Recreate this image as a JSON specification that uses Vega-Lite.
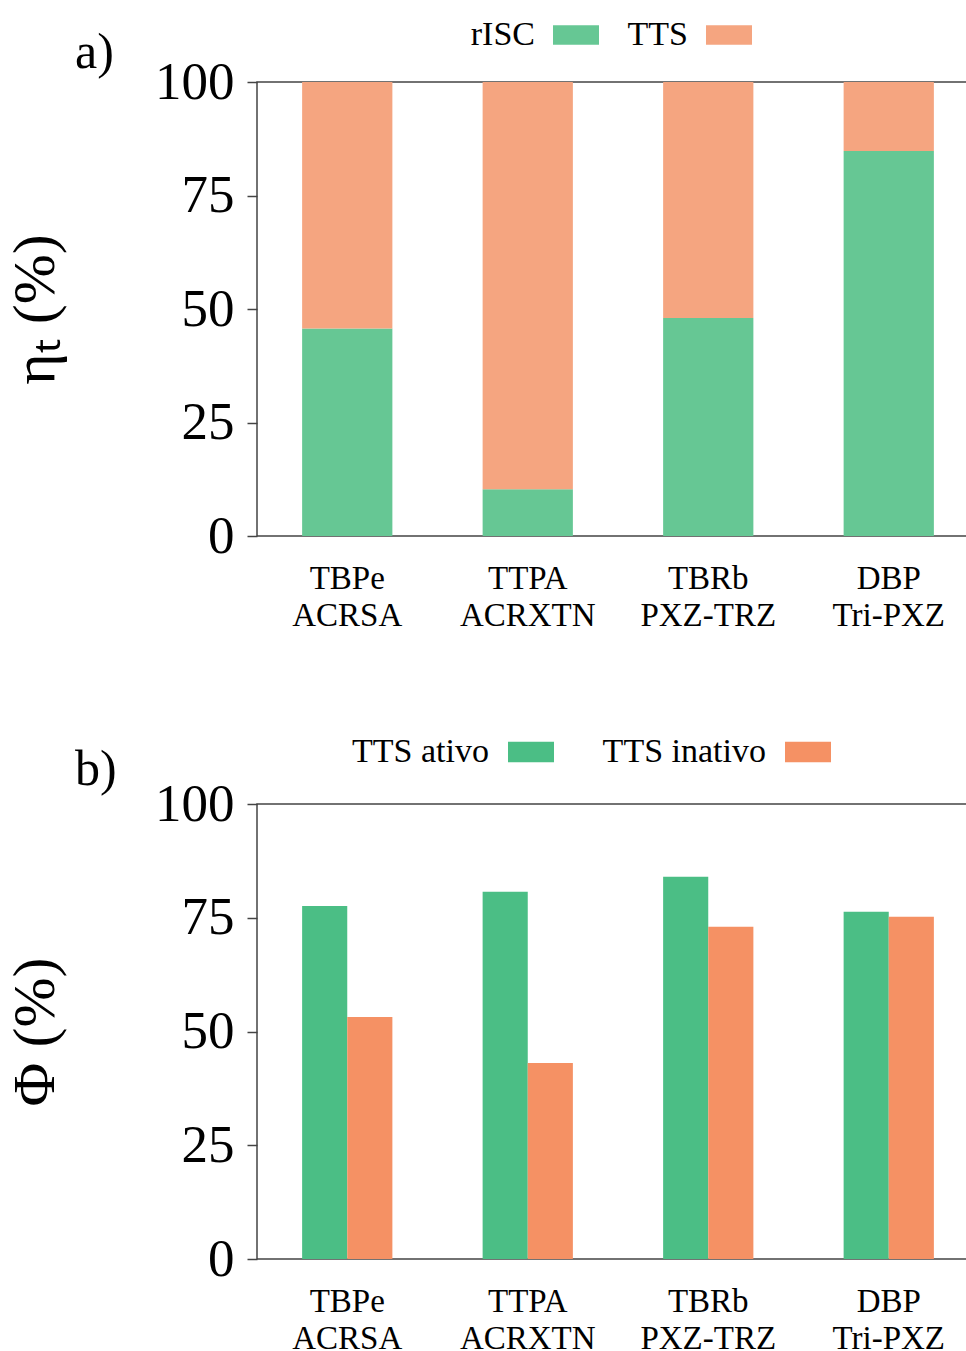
{
  "$schema": "https://vega.github.io/schema/vega-lite/v6.json",
  "background": "white",
  "padding": {"left": 4, "top": 11, "right": 0, "bottom": 0},
  "config": {
    "font": "Liberation Serif",
    "view": {"stroke": "#444444", "strokeWidth": 1.5},
    "axis": {"grid": false, "domain": false, "tickColor": "#444444", "tickWidth": 1.5, "labelColor": "black", "titleColor": "black", "labelFont": "Liberation Serif", "titleFont": "Liberation Serif", "titleFontWeight": "normal"},
    "legend": {"labelFont": "Liberation Serif", "labelColor": "black", "labelLimit": 400},
    "title": {"font": "Liberation Serif", "fontWeight": "normal", "color": "black"}
  },
  "spacing": 95,
  "resolve": {"scale": {"color": "independent"}},
  "vconcat": [
    {
      "width": 722,
      "height": 454,
      "title": {"text": "a)", "anchor": "start", "frame": "group", "dx": -182, "dy": 116, "fontSize": 50, "offset": 10, "baseline": "alphabetic"},
      "data": {"values": [
        {"sys": "TBPe ACRSA", "s": "rISC", "v": 45.7, "o": 1},
        {"sys": "TBPe ACRSA", "s": "TTS", "v": 54.3, "o": 2},
        {"sys": "TTPA ACRXTN", "s": "rISC", "v": 10.3, "o": 1},
        {"sys": "TTPA ACRXTN", "s": "TTS", "v": 89.7, "o": 2},
        {"sys": "TBRb PXZ-TRZ", "s": "rISC", "v": 48.0, "o": 1},
        {"sys": "TBRb PXZ-TRZ", "s": "TTS", "v": 52.0, "o": 2},
        {"sys": "DBP Tri-PXZ", "s": "rISC", "v": 84.8, "o": 1},
        {"sys": "DBP Tri-PXZ", "s": "TTS", "v": 15.2, "o": 2}
      ]},
      "mark": {"type": "bar"},
      "encoding": {
        "x": {"field": "sys", "type": "nominal", "sort": null,
          "scale": {"paddingInner": 0.5, "paddingOuter": 0.25},
          "axis": {"title": null, "labelAngle": 0, "ticks": false, "labelExpr": "split(datum.label, ' ')", "labelFontSize": 33, "labelPadding": 26, "labelLineHeight": 37}},
        "y": {"field": "v", "type": "quantitative", "stack": "zero",
          "scale": {"domain": [0, 100], "nice": false},
          "axis": {"title": "ηₜ (%)", "values": [0, 25, 50, 75, 100], "tickSize": 10, "labelFontSize": 53, "labelPadding": 13, "titleFontSize": 60, "titlePadding": 88}},
        "color": {"field": "s", "type": "nominal",
          "scale": {"domain": ["rISC", "TTS"], "range": ["#66c794", "#f5a580"]},
          "legend": {"orient": "none", "legendX": 296, "legendY": -70, "direction": "horizontal", "title": null, "labelFontSize": 34, "symbolType": "M-1,-0.42L1,-0.42L1,0.42L-1,0.42Z", "symbolSize": 2116, "symbolStrokeWidth": 0, "labelAlign": "right", "labelOffset": -64, "columnPadding": 28}},
        "order": {"field": "o", "type": "quantitative"}
      }
    },
    {
      "width": 722,
      "height": 455,
      "title": {"text": "b)", "anchor": "start", "frame": "group", "dx": -182, "dy": 116, "fontSize": 50, "offset": 10, "baseline": "alphabetic"},
      "data": {"values": [
        {"sys": "TBPe ACRSA", "s": "TTS ativo", "v": 77.6},
        {"sys": "TBPe ACRSA", "s": "TTS inativo", "v": 53.2},
        {"sys": "TTPA ACRXTN", "s": "TTS ativo", "v": 80.7},
        {"sys": "TTPA ACRXTN", "s": "TTS inativo", "v": 43.1},
        {"sys": "TBRb PXZ-TRZ", "s": "TTS ativo", "v": 84.0},
        {"sys": "TBRb PXZ-TRZ", "s": "TTS inativo", "v": 73.0},
        {"sys": "DBP Tri-PXZ", "s": "TTS ativo", "v": 76.3},
        {"sys": "DBP Tri-PXZ", "s": "TTS inativo", "v": 75.2}
      ]},
      "mark": {"type": "bar"},
      "encoding": {
        "x": {"field": "sys", "type": "nominal", "sort": null,
          "scale": {"paddingInner": 0.5, "paddingOuter": 0.25},
          "axis": {"title": null, "labelAngle": 0, "ticks": false, "labelExpr": "split(datum.label, ' ')", "labelFontSize": 33, "labelPadding": 26, "labelLineHeight": 37}},
        "xOffset": {"field": "s", "type": "nominal", "sort": null, "scale": {"paddingInner": 0, "paddingOuter": 0}},
        "y": {"field": "v", "type": "quantitative",
          "scale": {"domain": [0, 100], "nice": false},
          "axis": {"title": "Φ (%)", "values": [0, 25, 50, 75, 100], "tickSize": 10, "labelFontSize": 53, "labelPadding": 13, "titleFontSize": 60, "titlePadding": 88}},
        "color": {"field": "s", "type": "nominal",
          "scale": {"domain": ["TTS ativo", "TTS inativo"], "range": ["#4bbe85", "#f59164"]},
          "legend": {"orient": "none", "legendX": 251, "legendY": -75, "direction": "horizontal", "title": null, "labelFontSize": 34, "symbolType": "M-1,-0.45L1,-0.45L1,0.45L-1,0.45Z", "symbolSize": 2116, "symbolStrokeWidth": 0, "labelAlign": "right", "labelOffset": -65, "columnPadding": 48}}
      }
    }
  ]
}
